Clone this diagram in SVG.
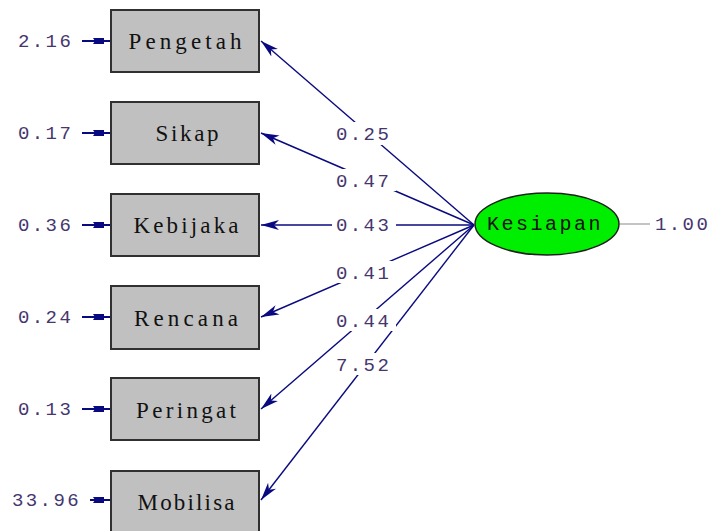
<svg xmlns="http://www.w3.org/2000/svg" width="717" height="531" viewBox="0 0 717 531">
<style>
.box rect{fill:#c0c0c0;stroke:#303030;stroke-width:2}
.box text.name{font-family:"Liberation Serif",serif;font-size:23px;fill:#111;text-anchor:middle}
.num{font-family:"Liberation Mono",monospace;font-size:19px;letter-spacing:2.4px;fill:#45366e}
.lbl{fill:#fff}
.path{stroke:#0a0a80;stroke-width:1.4;fill:none;marker-end:url(#ah)}
.err{stroke:#0a0a80;stroke-width:2;fill:none;marker-end:url(#eh)}
</style>
<defs>
<marker id="ah" viewBox="0 0 18 12" refX="18" refY="6" markerWidth="18" markerHeight="12" markerUnits="userSpaceOnUse" orient="auto">
<path d="M0,1 L18,6 L0,11 L5,6 z" fill="#0a0a80"/>
</marker>
<marker id="eh" viewBox="0 0 22 8" refX="22" refY="4" markerWidth="22" markerHeight="8" markerUnits="userSpaceOnUse" orient="auto">
<path d="M4,1 L15,1 L15,7 L4,7 L6,4 z" fill="#0a0a80"/>
</marker>
</defs>
<rect width="717" height="531" fill="#fff"/>
<g id="connectors">
<line class="path" x1="474" y1="225" x2="261" y2="41"/>
<line class="path" x1="474" y1="225" x2="261" y2="133"/>
<line class="path" x1="474" y1="225" x2="261" y2="225"/>
<line class="path" x1="474" y1="225" x2="261" y2="317"/>
<line class="path" x1="474" y1="225" x2="261" y2="409"/>
<line class="path" x1="474" y1="225" x2="261" y2="500"/>
<line class="err" x1="82" y1="41" x2="111" y2="41"/>
<line class="err" x1="82" y1="133" x2="111" y2="133"/>
<line class="err" x1="82" y1="225" x2="111" y2="225"/>
<line class="err" x1="82" y1="317" x2="111" y2="317"/>
<line class="err" x1="82" y1="409" x2="111" y2="409"/>
<line class="err" x1="90" y1="500" x2="111" y2="500"/>
<line x1="620" y1="224" x2="650" y2="224" stroke="#b0b0b0" stroke-width="1.5"/>
<rect class="lbl" x="332" y="122" width="64" height="23"/>
<rect class="lbl" x="332" y="169" width="64" height="22"/>
<rect class="lbl" x="332" y="214" width="64" height="22"/>
<rect class="lbl" x="332" y="261" width="64" height="22"/>
<rect class="lbl" x="332" y="309" width="64" height="22"/>
<rect class="lbl" x="332" y="353" width="64" height="22"/>
<text class="num" x="336" y="140">0.25</text>
<text class="num" x="336" y="187">0.47</text>
<text class="num" x="336" y="231">0.43</text>
<text class="num" x="336" y="279">0.41</text>
<text class="num" x="336" y="327">0.44</text>
<text class="num" x="336" y="371">7.52</text>
</g>
<g id="Pengetah" class="box"><rect x="111" y="10" width="148" height="62"/><text class="name" x="185" y="49" textLength="113" lengthAdjust="spacing">Pengetah</text><text class="num" x="18" y="47">2.16</text></g>
<g id="Sikap" class="box"><rect x="111" y="102" width="148" height="62"/><text class="name" x="187" y="141" textLength="63" lengthAdjust="spacing">Sikap</text><text class="num" x="18" y="139">0.17</text></g>
<g id="Kebijaka" class="box"><rect x="111" y="194" width="148" height="62"/><text class="name" x="186" y="233" textLength="105" lengthAdjust="spacing">Kebijaka</text><text class="num" x="18" y="231">0.36</text></g>
<g id="Rencana" class="box"><rect x="111" y="286" width="148" height="63"/><text class="name" x="186" y="326" textLength="104" lengthAdjust="spacing">Rencana</text><text class="num" x="18" y="323">0.24</text></g>
<g id="Peringat" class="box"><rect x="111" y="378" width="148" height="62"/><text class="name" x="186" y="418" textLength="100" lengthAdjust="spacing">Peringat</text><text class="num" x="18" y="415">0.13</text></g>
<g id="Mobilisa" class="box"><rect x="111" y="471" width="148" height="64"/><text class="name" x="186" y="510" textLength="97" lengthAdjust="spacing">Mobilisa</text><text class="num" x="12" y="506">33.96</text></g>
<g id="Kesiapan"><ellipse cx="547" cy="224" rx="72" ry="31" fill="#00ee00" stroke="#202020" stroke-width="1.5"/><text x="545" y="230" text-anchor="middle" font-family="Liberation Mono,monospace" font-size="20" letter-spacing="2.5" fill="#111">Kesiapan</text><text class="num" x="655" y="230">1.00</text></g>
</svg>
